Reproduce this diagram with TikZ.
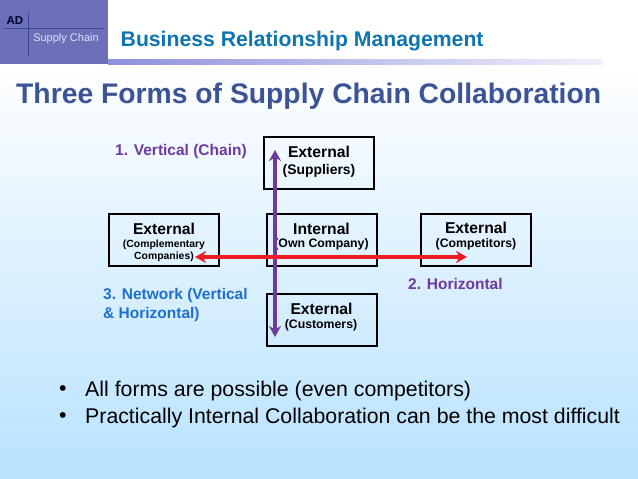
\documentclass[tikz,border=0pt]{standalone}
\usepackage{fontspec}
\setmainfont{Liberation Sans}
\usetikzlibrary{arrows.meta}
\definecolor{bgtop}{HTML}{FFFFFF}
\definecolor{bgbot}{HTML}{B8E2FF}
\definecolor{logo}{HTML}{6A6FB8}
\definecolor{logoline}{HTML}{3F4596}
\definecolor{barl}{HTML}{8E90DC}
\definecolor{barr}{HTML}{F0F0FC}
\definecolor{subt}{HTML}{0F75B0}
\definecolor{titlec}{HTML}{3C5496}
\definecolor{purp}{HTML}{6F3A9E}
\definecolor{redc}{HTML}{EE1C25}
\definecolor{netc}{HTML}{1F6FCC}
\tikzset{
  box/.style={draw=black,line width=2pt,fill=none,minimum width=110pt,minimum height=52pt,inner sep=0pt},
  head/.style={font=\bfseries\fontsize{15.7}{17}\selectfont,inner sep=0pt,anchor=center},
  sub/.style={font=\bfseries\fontsize{12.3}{14}\selectfont,inner sep=0pt,anchor=center},
  subsm/.style={font=\bfseries\fontsize{10.4}{12}\selectfont,inner sep=0pt,anchor=center},
  lab/.style={font=\bfseries\fontsize{15.5}{19}\selectfont,inner sep=0pt,anchor=west,align=left},
  bultext/.style={font=\fontsize{21.3}{24}\selectfont,inner sep=0pt,anchor=west},
  dbl/.style={line width=3.2pt,{Stealth[length=11pt,width=12pt,inset=3.5pt]}-{Stealth[length=11pt,width=12pt,inset=3.5pt]}}
}
\begin{document}
\begin{tikzpicture}[x=1pt,y=-1pt]
\useasboundingbox (0,0) rectangle (638,479);
\shade[top color=bgtop,bottom color=bgbot] (0,64) rectangle (638,479);
\fill[white] (0,0) rectangle (638,64);
\fill[logo] (0,0) rectangle (108,64);
\draw[logoline,line width=.6pt] (28.5,13) -- (28.5,56);
\draw[logoline,line width=.6pt] (3,28.5) -- (103,28.5);
\node[inner sep=0pt,font=\bfseries\fontsize{11.5}{12}\selectfont,text=black!80!blue] (ad) at (15,21) {AD};
\node[inner sep=0pt,font=\fontsize{11}{12}\selectfont,text=white!88!blue] (sc) at (66,39) {Supply Chain};
\shade[left color=barl,right color=barr] (108,59) rectangle (603,64);
\node[inner sep=0pt,anchor=west,font=\bfseries\fontsize{21.2}{23}\selectfont,text=subt] (bt) at (120.5,41.5) {Business Relationship Management};
\node[inner sep=0pt,anchor=west,font=\bfseries\fontsize{28.3}{30}\selectfont,text=titlec] (tt) at (16,96) {Three Forms of Supply Chain Collaboration};
\node[box] (sup) at (319,163) {};
\node[box] (comp) at (164,240) {};
\node[box] (own) at (321.5,240) {};
\node[box] (cust) at (321.5,319.5) {};
\node[box] (comt) at (475.5,240) {};
\node[head] (t1) at (319,151.5) {External};
\node[sub,font=\bfseries\fontsize{13.9}{15}\selectfont] (t2) at (319,171) {(Suppliers)};
\node[head] (t3) at (164,228.5) {External};
\node[subsm] (t4) at (164,244.5) {(Complementary};
\node[subsm] (t5) at (164,257) {Companies)};
\node[head] (t6) at (321.5,228.5) {Internal};
\node[sub] (t7) at (321.5,244.5) {(Own Company)};
\node[head] (t8) at (321.5,308.5) {External};
\node[sub] (t9) at (321,325) {(Customers)};
\node[head] (t10) at (476,228) {External};
\node[sub] (t11) at (476,244.5) {(Competitors)};
\coordinate (vt) at (275,150);
\coordinate (vb) at (275,337);
\coordinate (hl) at (195,257);
\coordinate (hr) at (467,257);
\draw[dbl,purp] (vt) -- (vb);
\draw[dbl,redc] (hl) -- (hr);
\node[lab,text=purp] (l1) at (115,151.5) {1. Vertical (Chain)};
\node[lab,text=purp] (l2) at (408,283.5) {2. Horizontal};
\node[lab,text=netc] (l3) at (103,305) {3. Network (Vertical\\\& Horizontal)};
\node[bultext] (b1) at (59,390.5) {•};
\node[bultext] (b2) at (59,418) {•};
\node[bultext] (b3) at (85,390.5) {All forms are possible (even competitors)};
\node[bultext] (b4) at (85,418) {Practically Internal Collaboration can be the most difficult};
\end{tikzpicture}
\end{document}
